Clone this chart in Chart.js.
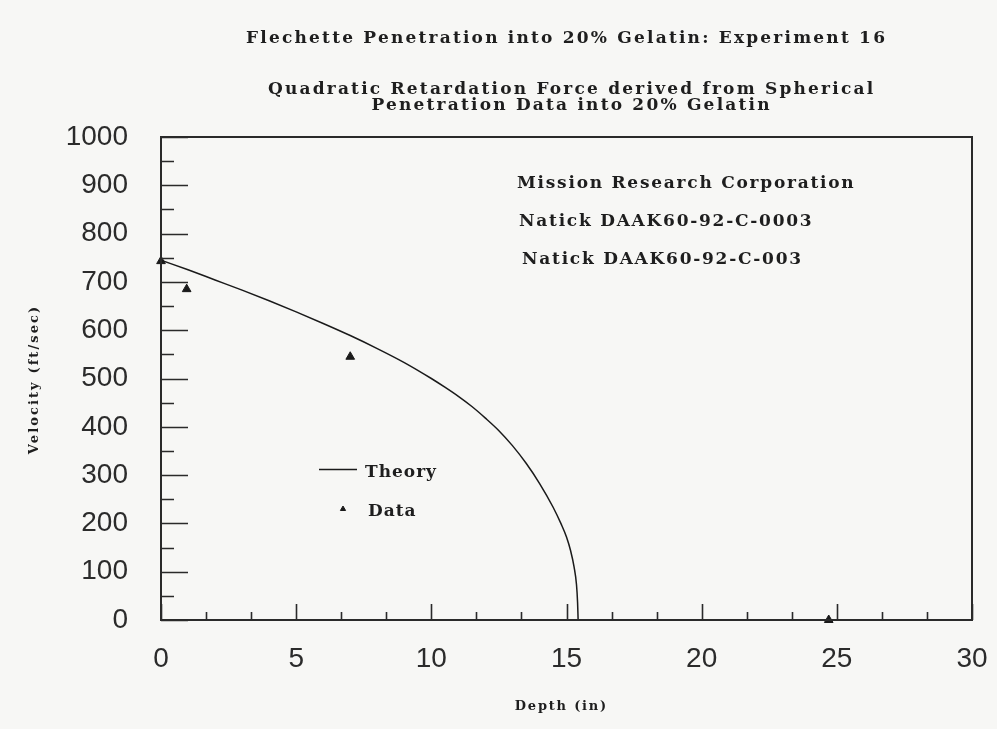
<!DOCTYPE html>
<html>
<head>
<meta charset="utf-8">
<script src="https://cdn.jsdelivr.net/npm/chart.js@4/dist/chart.umd.min.js"></script>
<style>
  html, body { margin: 0; padding: 0; background: #f7f7f5; }
  #wrap { width: 997px; height: 729px; }
</style>
</head>
<body>
<div id="wrap"><canvas id="c" width="997" height="729"></canvas></div>
<script>
// Theory curve: velocity vs. penetration depth
const theoryDepth = [0, 1, 2, 3, 4, 5, 6, 7, 8, 9, 10, 10.5, 11, 11.5, 12, 12.5, 13, 13.5, 14, 14.5, 14.8, 15.0, 15.15, 15.28, 15.37, 15.41, 15.43];
const theoryVelocity = [745, 725, 704, 683, 661, 638, 614, 589, 562, 533, 500, 482, 463, 442, 418, 392, 361, 325, 283, 234, 199, 172, 144, 110, 73, 36, 0];

// Measured flechette velocities
const dataDepth = [0, 0.95, 7.0, 24.7];
const dataVelocity = [743, 685, 545, 0];

// Axis tick values
const xTicks = [0, 5, 10, 15, 20, 25, 30];
const yTicks = [0, 100, 200, 300, 400, 500, 600, 700, 800, 900, 1000];

const titleLines = ['Flechette Penetration into 20% Gelatin: Experiment 16'];
const subtitleLines = ['Quadratic Retardation Force derived from Spherical', 'Penetration Data into 20% Gelatin'];
const noteLines = ['Mission Research Corporation', 'Natick DAAK60-92-C-0003', 'Natick DAAK60-92-C-003'];
const xTitle = 'Depth (in)';
const yTitle = 'Velocity (ft/sec)';

const INK = '#1e1e1e';
const SERIF = '"DejaVu Serif", "Liberation Serif", serif';

function pairs(xs, ys) { return xs.map((x, i) => ({ x: x, y: ys[i] })); }

function spacedText(ctx, text, x, y, align, size, spacing) {
  ctx.save();
  ctx.font = 'bold ' + size + 'px ' + SERIF;
  ctx.letterSpacing = spacing + 'px';
  ctx.fillStyle = INK;
  ctx.textBaseline = 'alphabetic';
  const w = ctx.measureText(text).width - spacing;
  let sx = x;
  if (align === 'center') sx = x - w / 2;
  else if (align === 'right') sx = x - w;
  ctx.textAlign = 'left';
  ctx.fillText(text, sx, y);
  ctx.restore();
}

const paperPlugin = {
  id: 'paper',
  beforeDraw(chart) {
    const ctx = chart.ctx;
    ctx.save();
    ctx.fillStyle = '#f7f7f5';
    ctx.fillRect(0, 0, chart.width, chart.height);
    ctx.restore();
  },
  afterDraw(chart) {
    const ctx = chart.ctx;
    const a = chart.chartArea;
    const xs = chart.scales.x, ys = chart.scales.y;
    const cx = (a.left + a.right) / 2;

    // frame
    ctx.save();
    ctx.strokeStyle = '#2a2a2a';
    ctx.lineWidth = 2;
    ctx.strokeRect(a.left, a.top, a.right - a.left, a.bottom - a.top);

    // inward ticks on the left axis
    ctx.lineWidth = 1.6;
    ctx.beginPath();
    for (let v = 0; v <= 1000; v += 50) {
      const py = Math.round(ys.getPixelForValue(v)) + 0.5;
      const len = (v % 100 === 0) ? 27 : 13;
      ctx.moveTo(a.left, py);
      ctx.lineTo(a.left + len, py);
    }
    // inward ticks on the bottom axis
    for (let k = 0; k <= 18; k++) {
      const v = k * 5 / 3;
      const px = Math.round(xs.getPixelForValue(v)) + 0.5;
      const len = (k % 3 === 0) ? 16 : 8;
      ctx.moveTo(px, a.bottom);
      ctx.lineTo(px, a.bottom - len);
    }
    ctx.stroke();
    ctx.restore();

    // titles
    spacedText(ctx, titleLines[0], cx - 1, 43, 'center', 17, 2.2);
    spacedText(ctx, subtitleLines[0], cx + 4, 94, 'center', 17, 2.2);
    spacedText(ctx, subtitleLines[1], cx + 4, 110, 'center', 17, 2.2);

    // notes inside the plot
    const noteX = [517, 519, 522];
    const noteY = [188, 226, 264];
    noteLines.forEach((t, i) => spacedText(ctx, t, noteX[i], noteY[i], 'left', 17, 1.75));

    // axis titles
    spacedText(ctx, xTitle, cx - 6, 710, 'center', 13, 1.8);
    ctx.save();
    ctx.translate(38, (a.top + a.bottom) / 2 + 2);
    ctx.rotate(-Math.PI / 2);
    spacedText(ctx, yTitle, 0, 0, 'center', 13, 2.1);
    ctx.restore();

    // legend
    const theory = chart.data.datasets[0];
    const data = chart.data.datasets[1];
    ctx.save();
    ctx.strokeStyle = theory.borderColor;
    ctx.lineWidth = theory.borderWidth;
    ctx.beginPath();
    ctx.moveTo(319, 469.5);
    ctx.lineTo(357, 469.5);
    ctx.stroke();
    ctx.fillStyle = data.backgroundColor;
    ctx.strokeStyle = data.borderColor;
    ctx.lineWidth = 1;
    Chart.helpers.drawPoint(ctx, { pointStyle: 'triangle', radius: 3, borderWidth: 1 }, 343, 509);
    ctx.restore();
    spacedText(ctx, theory.label, 365, 477, 'left', 17, 1.0);
    spacedText(ctx, data.label, 368, 516, 'left', 17, 1.0);
  }
};

new Chart(document.getElementById('c'), {
  type: 'scatter',
  data: {
    datasets: [
      {
        label: 'Theory',
        data: pairs(theoryDepth, theoryVelocity),
        showLine: true,
        borderColor: '#1a1a1a',
        borderWidth: 1.5,
        pointRadius: 0,
        cubicInterpolationMode: 'monotone',
        fill: false
      },
      {
        label: 'Data',
        data: pairs(dataDepth, dataVelocity),
        showLine: false,
        pointStyle: 'triangle',
        pointRadius: 5,
        backgroundColor: '#1a1a1a',
        borderColor: '#1a1a1a',
        borderWidth: 1,
        clip: false
      }
    ]
  },
  options: {
    responsive: false,
    animation: false,
    devicePixelRatio: 1,
    layout: { padding: { left: 0, top: 137, right: 25, bottom: 0 } },
    plugins: {
      legend: { display: false },
      tooltip: { enabled: false },
      title: { display: false }
    },
    scales: {
      x: {
        type: 'linear',
        min: 0, max: 30,
        afterBuildTicks(scale) { scale.ticks = xTicks.map(v => ({ value: v })); },
        afterFit(scale) {
          scale.height = 109;
          scale.paddingLeft = 0;
          scale.paddingRight = 0;
        },
        grid: { display: false, drawTicks: false },
        border: { display: false },
        ticks: {
          padding: 22,
          color: '#2b2b2b',
          font: { family: '"Liberation Sans", Arial, sans-serif', size: 28 },
          maxRotation: 0,
          callback: v => String(v)
        }
      },
      y: {
        type: 'linear',
        min: 0, max: 1000,
        afterBuildTicks(scale) { scale.ticks = yTicks.map(v => ({ value: v })); },
        afterFit(scale) {
          scale.width = 161;
          scale.paddingTop = 0;
          scale.paddingBottom = 0;
        },
        grid: { display: false, drawTicks: false },
        border: { display: false },
        ticks: {
          padding: 33,
          color: '#2b2b2b',
          font: { family: '"Liberation Sans", Arial, sans-serif', size: 28 },
          callback: v => String(v)
        }
      }
    }
  },
  plugins: [paperPlugin]
});
</script>
</body>
</html>
